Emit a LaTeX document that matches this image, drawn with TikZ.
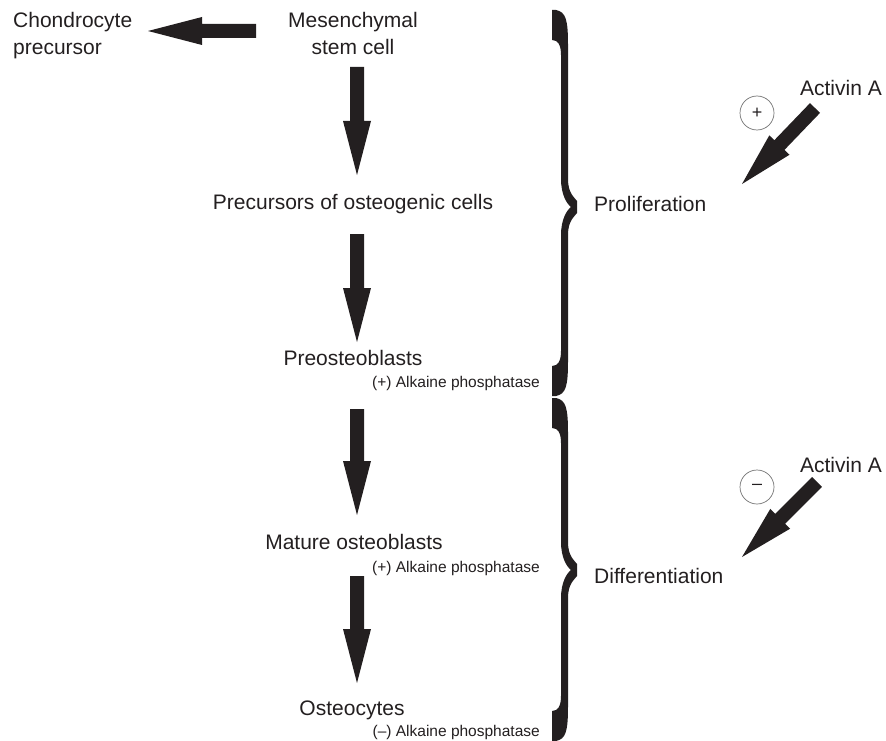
\documentclass[tikz,border=0pt]{standalone}
\usepackage{fontspec}
\setmainfont{Liberation Sans}
\usetikzlibrary{calc}
\definecolor{ink}{RGB}{35,31,32}
\newcommand\bigtxt{\fontsize{21}{27}\selectfont}
\newcommand\smalltxt{\fontsize{15.5}{18}\selectfont}
% block arrow from #1 to #2
\newcommand\blockarrow[2]{%
  \coordinate (hb) at ($(#2)!54pt!(#1)$);
  \fill[ink] ($(#1)!7pt!90:(#2)$) -- ($(hb)!7pt!90:(#2)$) -- ($(hb)!14pt!90:(#2)$) -- (#2)
    -- ($(hb)!14pt!-90:(#2)$) -- ($(hb)!7pt!-90:(#2)$) -- ($(#1)!7pt!-90:(#2)$) -- cycle;}
% calligraphic right brace: top, middle, bottom
\newcommand\bigbrace[3]{%
  \fill[ink] (552,#1) -- (556,#1) .. controls (566,#1+2) and (568,#1+10) .. (568,#1+35)
    -- (568,#2-28) .. controls (568,#2-14) and (574,#2-10) .. (577,#2-6)
    -- (577,#2+6) .. controls (574,#2+10) and (568,#2+14) .. (568,#2+28)
    -- (568,#3-35) .. controls (568,#3-10) and (566,#3-2) .. (556,#3)
    -- (552,#3) -- (552,#3-30) .. controls (558,#3-30) and (561,#3-35) .. (561,#3-45)
    -- (561,#2+28) .. controls (561,#2+12) and (567,#2+3) .. (571,#2)
    .. controls (567,#2-3) and (561,#2-12) .. (561,#2-28)
    -- (561,#1+45) .. controls (561,#1+35) and (558,#1+30) .. (552,#1+30) -- cycle;}
\begin{document}
\begin{tikzpicture}[x=1pt,y=-1pt,
  lbl/.style={inner sep=0pt, font=\bigtxt, text=ink},
  sub/.style={inner sep=0pt, font=\smalltxt, text=ink},
  sign/.style={circle, draw=black!55, line width=0.7pt, minimum size=34pt, inner sep=0pt,
    font=\fontsize{18}{18}\selectfont, text=ink}]
\useasboundingbox (0,0) rectangle (886,741);

% texts
\node[lbl, anchor=north west, align=left] (chon) at (13,12.5) {Chondrocyte\\precursor};
\node[lbl, anchor=north, align=center] (msc) at (353,12.5) {Mesenchymal\\stem cell};
\node[lbl, anchor=base] (prec) at (353,209) {Precursors of osteogenic cells};
\node[lbl, anchor=base] (preo) at (353,365) {Preosteoblasts};
\node[sub, anchor=base east] (preoAP) at (540,387) {(+) Alkaine phosphatase};
\node[lbl, anchor=base] (mat) at (354,549) {Mature osteoblasts};
\node[sub, anchor=base east] (matAP) at (540,572) {(+) Alkaine phosphatase};
\node[lbl, anchor=base] (ost) at (352,715) {Osteocytes};
\node[sub, anchor=base east] (ostAP) at (540,736) {(–) Alkaine phosphatase};
\node[lbl, anchor=base west] (prolif) at (594,211) {Proliferation};
\node[lbl, anchor=base west] (diff) at (594,583) {Differentiation};
\node[lbl, anchor=base east] (act1) at (882,96) {Activin A};
\node[lbl, anchor=base east] (act2) at (882,472) {Activin A};
\node[sign] (plus) at (757,113) {+};
\node[sign] (minus) at (757,487) {–};

% arrow end points
\coordinate (h0) at (256,31);   \coordinate (h1) at (148,31);
\coordinate (a0s) at (357,67);  \coordinate (a0e) at (357,175);
\coordinate (a1s) at (357,234); \coordinate (a1e) at (357,342);
\coordinate (a2s) at (357,409); \coordinate (a2e) at (357,515);
\coordinate (a3s) at (357,576); \coordinate (a3e) at (357,683);
\coordinate (d1s) at (815,108); \coordinate (d1e) at (742,184);
\coordinate (d2s) at (817,482); \coordinate (d2e) at (742,557);

\blockarrow{h0}{h1}
\blockarrow{a0s}{a0e}
\blockarrow{a1s}{a1e}
\blockarrow{a2s}{a2e}
\blockarrow{a3s}{a3e}
\blockarrow{d1s}{d1e}
\blockarrow{d2s}{d2e}

% braces
\bigbrace{10}{207}{396}
\bigbrace{398}{570}{741}
\end{tikzpicture}
\end{document}
